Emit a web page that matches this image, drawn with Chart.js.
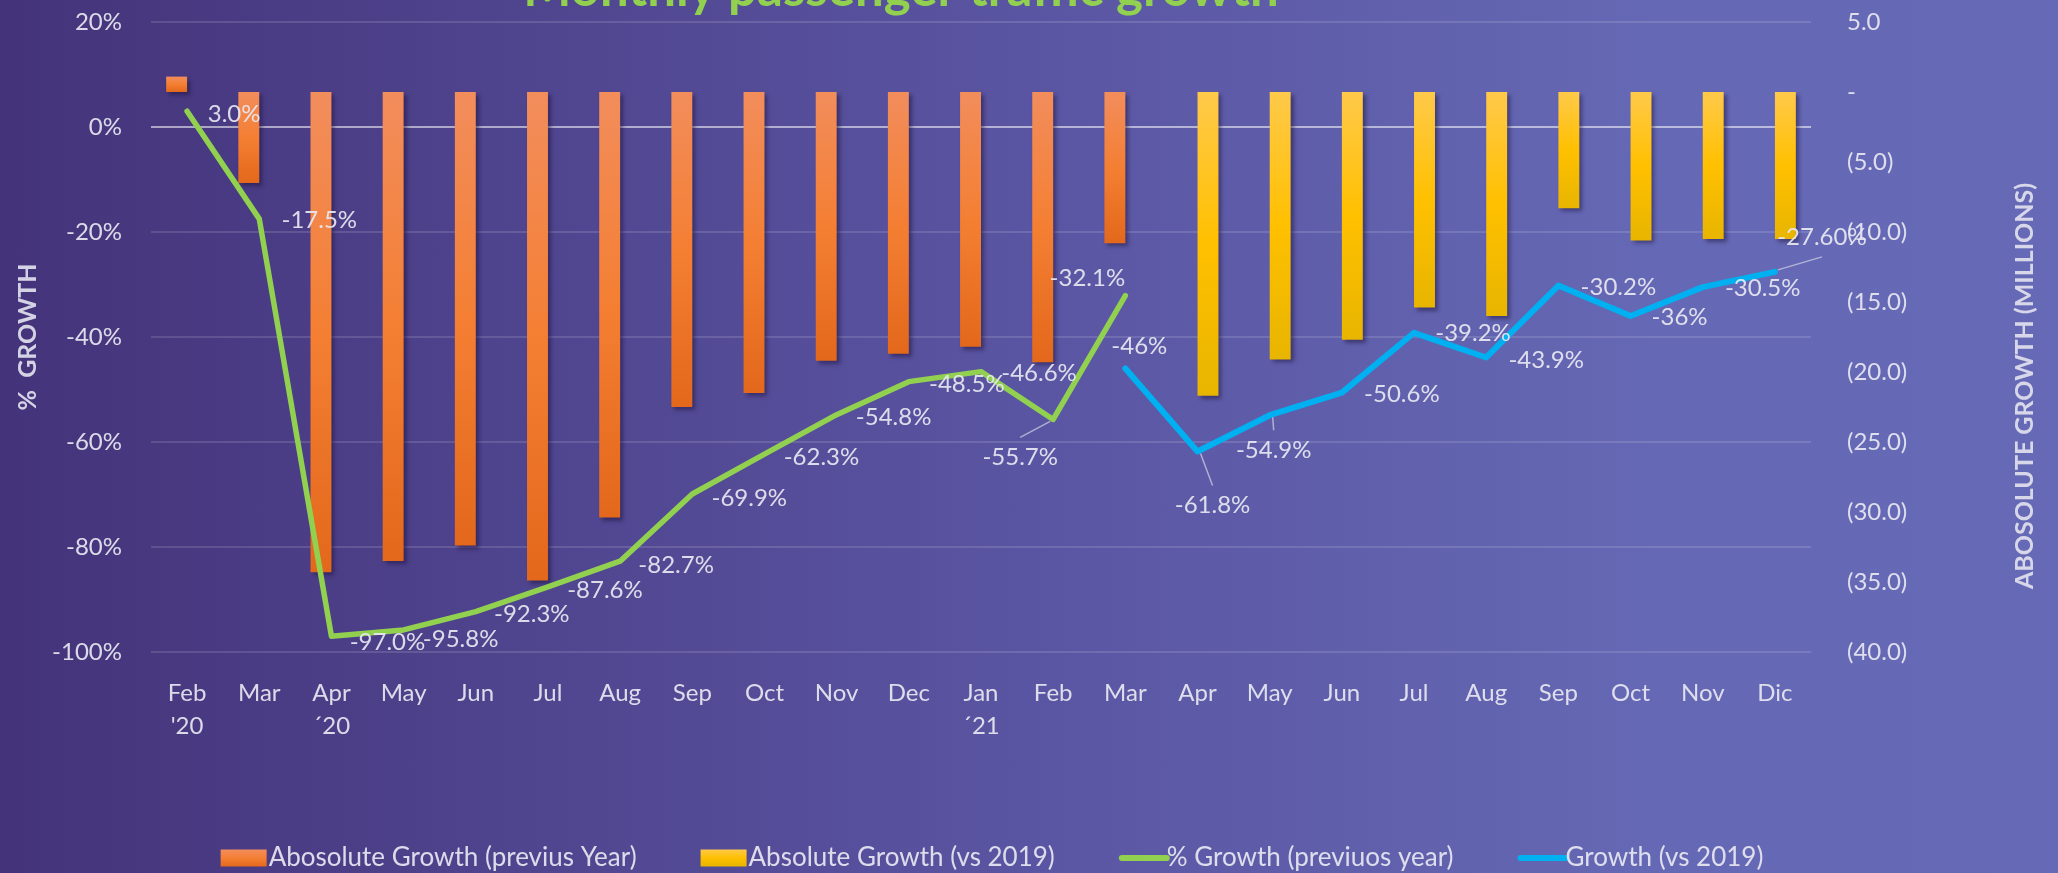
<!DOCTYPE html>
<html>
<head>
<meta charset="utf-8">
<script src="https://cdn.jsdelivr.net/npm/chart.js@4.4.0/dist/chart.umd.min.js"></script>
<style>
    html, body { margin: 0; padding: 0; }
    #wrap {
        position: relative;
        width: 2058px;
        height: 873px;
        background: linear-gradient(to right, #44337a 0%, #5a55a2 50%, #6568b4 80%, #6669b5 100%);
    }
</style>
</head>
<body>
<div id="wrap"><canvas id="graficoTrafego"></canvas></div>
<script>
// dados

const meses = [['Feb', "'20"], 'Mar', ['Apr', '´20'], 'May', 'Jun', 'Jul', 'Aug', 'Sep', 'Oct', 'Nov', 'Dec', ['Jan', '´21'], 'Feb', 'Mar', 'Apr', 'May', 'Jun', 'Jul', 'Aug', 'Sep', 'Oct', 'Nov', 'Dic']

const absPrevio = [1.1, -6.5, -34.3, -33.5, -32.4, -34.9, -30.4, -22.5, -21.5, -19.2, -18.7, -18.2, -19.3, -10.8, null, null, null, null, null, null, null, null, null]
const abs2019 = [null, null, null, null, null, null, null, null, null, null, null, null, null, null, -21.7, -19.1, -17.7, -15.4, -16.0, -8.3, -10.6, -10.5, -10.5]

const pctPrevio = [3.0, -17.5, -97.0, -95.8, -92.3, -87.6, -82.7, -69.9, -62.3, -54.8, -48.5, -46.6, -55.7, -32.1, null, null, null, null, null, null, null, null, null]
const pct2019 = [null, null, null, null, null, null, null, null, null, null, null, null, null, -46, -61.8, -54.9, -50.6, -39.2, -43.9, -30.2, -36, -30.5, -27.6]

const txtPrevio = ['3.0%', '-17.5%', '-97.0%', '-95.8%', '-92.3%', '-87.6%', '-82.7%', '-69.9%', '-62.3%', '-54.8%', '-48.5%', '-46.6%', '-55.7%', '-32.1%']
const txt2019 = {13: '-46%', 14: '-61.8%', 15: '-54.9%', 16: '-50.6%', 17: '-39.2%', 18: '-43.9%', 19: '-30.2%', 20: '-36%', 21: '-30.5%', 22: '-27.60%'}

const legendas = ['Abosolute Growth (previus Year)', 'Absolute Growth (vs 2019)', '% Growth (previuos year)', 'Growth (vs 2019)']

// posicao dos rotulos (dx, dy em px, relativo ao ponto) e linha guia
const offPrevio = {0: [47, 3], 1: [60, 1], 2: [56, 6], 3: [57, 9], 4: [56, 3], 5: [57, 3], 6: [56, 4], 7: [57, 4], 8: [57, 3], 9: [57, 3], 10: [58, 3], 11: [58, 2], 12: [-33, 38, 1], 13: [-38, -17]}
const off2019 = {13: [14, -22], 14: [15, 54, 1], 15: [4, 35, 1], 16: [60, 2], 17: [59, 0], 18: [60, 3], 19: [60, 2], 20: [49, 1], 21: [60, 1], 22: [47, -35, 1]}

const FONTE = 'Lato, "Open Sans", sans-serif'
const corTexto = 'rgba(232,232,242,0.92)'
const VERDE = '#92d050'
const AZUL = '#00b0f0'

Chart.defaults.font.family = FONTE
Chart.defaults.font.size = 24
Chart.defaults.color = corTexto

function gradBarra(context, cores) {
    const chart = context.chart
    const area = chart.chartArea
    if (!area || context.raw == null) return cores[1]
    const esc = chart.scales.y2
    const y0 = esc.getPixelForValue(0)
    const y1 = esc.getPixelForValue(context.raw)
    if (Math.abs(y1 - y0) < 1) return cores[1]
    const g = chart.ctx.createLinearGradient(0, Math.min(y0, y1), 0, Math.max(y0, y1))
    g.addColorStop(0, cores[0])
    g.addColorStop(0.5, cores[1])
    g.addColorStop(1, cores[2])
    return g
}

const corLaranja = ['#f28d5c', '#f47f33', '#e3681b']
const corAmarelo = ['#ffc94a', '#ffc000', '#e8b500']

// sombra das barras
const sombraPlugin = {
    id: 'sombra',
    beforeDatasetDraw(chart, args) {
        const ctx = chart.ctx
        ctx.save()
        if (chart.data.datasets[args.index].type === 'bar') {
            ctx.shadowColor = 'rgba(20,10,50,0.45)'
            ctx.shadowBlur = 4
            ctx.shadowOffsetX = 3
            ctx.shadowOffsetY = 3
        }
    },
    afterDatasetDraw(chart) {
        chart.ctx.restore()
    }
}

// rotulos das linhas
const rotulosPlugin = {
    id: 'rotulos',
    afterDatasetsDraw(chart) {
        const ctx = chart.ctx
        const desenha = (dsIndex, textos, offs) => {
            const meta = chart.getDatasetMeta(dsIndex)
            ctx.save()
            ctx.font = '24px ' + FONTE
            ctx.fillStyle = corTexto
            ctx.textAlign = 'center'
            ctx.textBaseline = 'middle'
            for (const i in offs) {
                const p = meta.data[i]
                const o = offs[i]
                if (!p || textos[i] == null) continue
                const cx = p.x + o[0]
                const cy = p.y + o[1]
                if (o[2]) {
                    ctx.strokeStyle = 'rgba(205,205,225,0.75)'
                    ctx.lineWidth = 1.5
                    ctx.beginPath()
                    ctx.moveTo(p.x + Math.sign(o[0]) * 3, p.y + Math.sign(o[1]) * 2)
                    ctx.lineTo(cx, cy - Math.sign(o[1]) * 20)
                    ctx.stroke()
                }
                ctx.fillText(textos[i], cx, cy)
            }
            ctx.restore()
        }
        desenha(2, txtPrevio, offPrevio)
        desenha(3, txt2019, off2019)
    }
}

// titulo, titulos dos eixos e legenda
const extrasPlugin = {
    id: 'extras',
    afterDraw(chart) {
        const ctx = chart.ctx
        const area = chart.chartArea
        ctx.save()

        ctx.font = 'bold 51px ' + FONTE
        ctx.fillStyle = VERDE
        ctx.textAlign = 'center'
        ctx.textBaseline = 'alphabetic'
        ctx.fillText('Monthly passenger traffic growth', 901, 6)

        ctx.font = 'bold 25px ' + FONTE
        ctx.fillStyle = 'rgba(225,225,238,0.92)'
        ctx.textBaseline = 'middle'
        ctx.save()
        ctx.translate(28, (area.top + area.bottom) / 2)
        ctx.rotate(-Math.PI / 2)
        ctx.fillText('%  GROWTH', 0, 0)
        ctx.restore()
        ctx.save()
        ctx.translate(2025, 386)
        ctx.rotate(-Math.PI / 2)
        ctx.fillText('ABOSOLUTE GROWTH (MILLIONS)', 0, 0)
        ctx.restore()

        // legenda
        ctx.font = '26px ' + FONTE
        ctx.textAlign = 'left'
        const yLeg = 858
        const caixa = 46
        const gap = 64
        let total = 0
        legendas.forEach((t, i) => {
            total += caixa + 2 + ctx.measureText(t).width + (i < legendas.length - 1 ? gap : 0)
        })
        let x = 992 - total / 2
        legendas.forEach((t, i) => {
            if (i < 2) {
                const cores = i === 0 ? corLaranja : corAmarelo
                const g = ctx.createLinearGradient(0, yLeg - 8.5, 0, yLeg + 8.5)
                g.addColorStop(0, cores[0])
                g.addColorStop(0.5, cores[1])
                g.addColorStop(1, cores[2])
                ctx.fillStyle = g
                ctx.fillRect(x, yLeg - 8.5, caixa, 17)
            } else {
                ctx.strokeStyle = i === 2 ? VERDE : AZUL
                ctx.lineWidth = 6
                ctx.lineCap = 'round'
                ctx.beginPath()
                ctx.moveTo(x + 3, yLeg)
                ctx.lineTo(x + caixa + 2, yLeg)
                ctx.stroke()
            }
            ctx.fillStyle = corTexto
            ctx.fillText(t, x + caixa + 2, yLeg)
            x += caixa + 2 + ctx.measureText(t).width + gap
        })
        ctx.restore()
    }
}

const ctx = document.getElementById('graficoTrafego')

const myChart = new Chart(ctx, {
    type: 'bar',
    data: {
        labels: meses,
        datasets: [
            {
                type: 'bar',
                label: legendas[0],
                data: absPrevio,
                yAxisID: 'y2',
                backgroundColor: c => gradBarra(c, corLaranja),
                borderWidth: 0,
                categoryPercentage: 0.58,
                barPercentage: 1,
                order: 2
            },
            {
                type: 'bar',
                label: legendas[1],
                data: abs2019,
                yAxisID: 'y2',
                backgroundColor: c => gradBarra(c, corAmarelo),
                borderWidth: 0,
                categoryPercentage: 0.58,
                barPercentage: 1,
                order: 2
            },
            {
                type: 'line',
                label: legendas[2],
                data: pctPrevio,
                yAxisID: 'y',
                borderColor: VERDE,
                backgroundColor: VERDE,
                borderWidth: 5.5,
                borderJoinStyle: 'round',
                borderCapStyle: 'round',
                pointRadius: 0,
                tension: 0,
                spanGaps: false,
                order: 1
            },
            {
                type: 'line',
                label: legendas[3],
                data: pct2019,
                yAxisID: 'y',
                borderColor: AZUL,
                backgroundColor: AZUL,
                borderWidth: 6,
                borderJoinStyle: 'round',
                borderCapStyle: 'round',
                pointRadius: 0,
                tension: 0,
                spanGaps: false,
                order: 1
            }
        ]
    },
    options: {
        responsive: true,
        maintainAspectRatio: false,
        animation: false,
        layout: { padding: { top: 22, left: 0, right: 0, bottom: 0 } },
        plugins: {
            legend: { display: false },
            title: { display: false },
            tooltip: { enabled: false }
        },
        scales: {
            x: {
                grid: { display: false },
                border: { display: false },
                ticks: {
                    autoSkip: false,
                    maxRotation: 0,
                    padding: 17,
                    font: { size: 24, lineHeight: 1.375 }
                },
                afterFit: s => { s.height = 221 }
            },
            y: {
                position: 'left',
                min: -100,
                max: 20,
                border: { display: false },
                grid: {
                    drawTicks: true,
                    tickLength: 29,
                    tickColor: 'rgba(0,0,0,0)',
                    lineWidth: 2,
                    color: c => c.tick && c.tick.value === 0 ? 'rgba(255,255,255,0.55)' : 'rgba(255,255,255,0.13)'
                },
                ticks: {
                    stepSize: 20,
                    padding: 0,
                    callback: v => v + '%'
                },
                afterFit: s => { s.width = 151 }
            },
            y2: {
                position: 'right',
                min: -40,
                max: 5,
                border: { display: false },
                grid: { display: false, drawTicks: true, tickLength: 36 },
                ticks: {
                    stepSize: 5,
                    padding: 0,
                    callback: v => v === 0 ? '-' : (v < 0 ? '(' + Math.abs(v).toFixed(1) + ')' : v.toFixed(1))
                },
                afterFit: s => { s.width = 247 }
            }
        }
    },
    plugins: [sombraPlugin, rotulosPlugin, extrasPlugin]
})
</script>
</body>
</html>
